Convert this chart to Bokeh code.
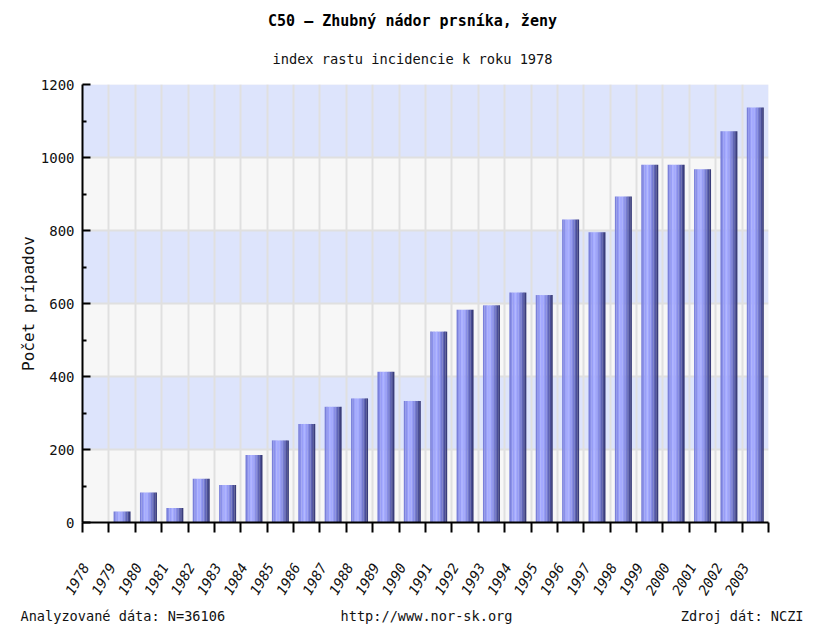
import math
from bokeh.plotting import figure
from bokeh.layouts import column
from bokeh.models import FixedTicker, Range1d, LinearAxis, Grid
from bokeh.core.properties import value
from bokeh.embed import file_html
from bokeh.resources import INLINE

year_nums = list(range(1978, 2004))
values = [0, 30, 82, 40, 120, 103, 185, 225, 270, 317, 340, 413, 333,
          523, 583, 595, 630, 623, 830, 795, 893, 980, 980, 968, 1072, 1137]
y_ticks = [0, 200, 400, 600, 800, 1000, 1200]
y_minor = [100, 300, 500, 700, 900, 1100]

title_text = "C50 – Zhubný nádor prsníka, ženy"
subtitle_text = "index rastu incidencie k roku 1978"
ylabel_text = "Počet prípadov"
foot_left = "Analyzované dáta: N=36106"
foot_mid = "http://www.nor-sk.org"
foot_right = "Zdroj dát: NCZI"

MONO = "DejaVu Sans Mono"
W = 810
TEXT_COLOR = "#111111"
HDR_H = 74
TOP_PAD = 84 - HDR_H


def blank_fig(h):
    f = figure(width=W, height=h, frame_width=W, frame_height=h, min_border=0,
               frame_align=False, output_backend="svg",
               toolbar_location=None, x_axis_type=None, y_axis_type=None,
               x_range=Range1d(0, W), y_range=Range1d(0, h))
    f.outline_line_color = None
    f.grid.visible = False
    f.background_fill_color = "white"
    f.border_fill_color = "white"
    return f


# ---- header ----
hdr = blank_fig(HDR_H)
hdr.text(x=[412], y=[HDR_H - 20], text=[title_text], text_font=value(MONO),
         text_font_size="15px", text_font_style="bold", text_align="center",
         text_baseline="middle", text_color="black")
hdr.text(x=[412], y=[HDR_H - 58], text=[subtitle_text], text_font=value(MONO),
         text_font_size="13.7px", text_align="center", text_baseline="middle",
         text_color=TEXT_COLOR)

# ---- main chart ----
n = len(year_nums)
p = figure(frame_width=686, frame_height=438, width=W, height=438 + TOP_PAD + 76,
           min_border_left=82, min_border_right=W - 82 - 686, min_border_top=TOP_PAD,
           min_border_bottom=76, frame_align=False, output_backend="svg",
           toolbar_location=None,
           x_range=Range1d(0, n), y_range=Range1d(0, 1200), x_axis_type=None)
p.outline_line_color = None
p.background_fill_color = "#f7f7f7"
p.border_fill_color = "white"

p.ygrid.ticker = FixedTicker(ticks=y_ticks)
p.ygrid.grid_line_color = "#e0e0e0"
p.ygrid.grid_line_width = 2
p.ygrid.band_fill_color = "#dde4fc"
p.ygrid.band_fill_alpha = 1.0

bounds = list(range(n + 1))
vgrid = Grid(dimension=0, ticker=FixedTicker(ticks=bounds, minor_ticks=[]),
             grid_line_color="#e0e0e0", grid_line_width=2)
p.add_layout(vgrid, "center")

# bars with cylindrical shading made of stripes
xs = [i + 0.5 for i in range(n)]
stripe_colors = ["#7a80da", "#8a90ea", "#989ef7", "#a5abff", "#a3a9fe",
                 "#979df5", "#878de6", "#757bd1", "#6065b6", "#4a4e98", "#3a3d7a"]
total_w = 0.64
k_n = len(stripe_colors)
sw = total_w / k_n
for k, c in enumerate(stripe_colors):
    off = -total_w / 2 + sw * (k + 0.5)
    p.vbar(x=[x + off for x in xs], top=values, width=sw * 1.08, bottom=0,
           fill_color=c, line_color=None)

# y axis
p.yaxis.ticker = FixedTicker(ticks=y_ticks, minor_ticks=y_minor)
p.yaxis.axis_line_color = "black"
p.yaxis.axis_line_width = 2
p.yaxis.major_tick_line_width = 2
p.yaxis.major_tick_out = 0
p.yaxis.major_tick_in = 8
p.yaxis.minor_tick_out = 0
p.yaxis.minor_tick_in = 4
p.yaxis.minor_tick_line_width = 2
p.yaxis.major_label_text_font = MONO
p.yaxis.major_label_text_font_size = "14px"
p.yaxis.major_label_text_color = TEXT_COLOR
p.yaxis.major_label_standoff = 8
p.yaxis.axis_label = ylabel_text
p.yaxis.axis_label_text_font = MONO
p.yaxis.axis_label_text_font_size = "16px"
p.yaxis.axis_label_text_font_style = "normal"
p.yaxis.axis_label_text_color = TEXT_COLOR
p.yaxis.axis_label_standoff = 0

# x axis: line + boundary ticks (no labels)
xa = LinearAxis(ticker=FixedTicker(ticks=bounds, minor_ticks=[]))
xa.axis_line_color = "black"
xa.axis_line_width = 2
xa.major_tick_line_width = 2
xa.major_tick_out = 10
xa.major_tick_in = 0
xa.minor_tick_line_color = None
xa.major_label_overrides = {b: "" for b in bounds}
xa.major_label_standoff = 0
p.add_layout(xa, "below")

# x axis: rotated year labels
p.extra_x_ranges = {"years": Range1d(year_nums[0] - 0.12, year_nums[0] + n - 0.12)}
xl = LinearAxis(x_range_name="years", ticker=FixedTicker(ticks=year_nums, minor_ticks=[]))
xl.axis_line_color = None
xl.major_tick_line_color = None
xl.minor_tick_line_color = None
xl.major_label_orientation = math.pi / 3
xl.major_label_text_font = MONO
xl.major_label_text_font_style = "italic"
xl.major_label_text_font_size = "14px"
xl.major_label_text_color = TEXT_COLOR
xl.major_label_standoff = 26
p.add_layout(xl, "below")

# ---- footer ----
FH = 27
ftr = blank_fig(FH)
for x, t, a in [(20, foot_left, "left"), (426, foot_mid, "center"), (803, foot_right, "right")]:
    ftr.text(x=[x], y=[FH - 14], text=[t], text_font=value(MONO),
             text_font_size="13.6px", text_align=a, text_baseline="middle",
             text_color=TEXT_COLOR)

layout = column(hdr, p, ftr, spacing=0)
open("out.html", "w").write(file_html(layout, INLINE))
